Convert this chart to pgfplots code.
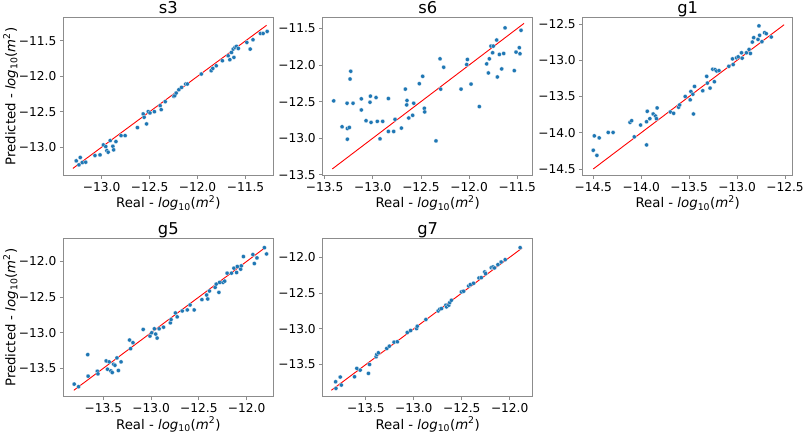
\documentclass[border=0pt]{standalone}
\usepackage{fontspec}
\setmainfont{DejaVu Sans}
\usepackage{pgfplots}
\pgfplotsset{compat=1.18}
\definecolor{tabblue}{HTML}{1F77B4}
\definecolor{spine}{RGB}{140,140,140}
\newcommand{\tickfont}{\fontsize{12.2bp}{14bp}\selectfont}
\newcommand{\labfont}{\fontsize{13.3bp}{16bp}\selectfont}
\newcommand{\titfont}{\fontsize{16.3bp}{19bp}\selectfont}
\pgfplotsset{
  panel/.style={
    scale only axis, width=210bp, height=158bp,
    axis line style={draw=spine, line width=0.8bp},
    tick style={draw=spine, line width=0.8bp},
    tick align=outside, major tick length=3.5bp,
    xtick pos=bottom, ytick pos=left,
    ticklabel style={font=\tickfont, text=black},
    every axis x label/.style={at={(axis description cs:0.5,-0.205)}, anchor=base, font=\labfont},
    every axis y label/.style={at={(axis description cs:-0.2286,0.5)}, rotate=90, anchor=base, font=\labfont},
    every axis title/.style={at={(axis description cs:0.5,1.025)}, anchor=base, font=\titfont},
    xlabel={Real - \textit{log}\textsubscript{10}(\textit{m}\textsuperscript{2})},
    anchor=south west,
  },
  pts/.style={only marks, mark=*, mark size=2.1bp, mark options={fill=tabblue, draw=white, line width=0.2bp}},
  fit/.style={red, line width=0.9bp, no marks},
}
\begin{document}
\begin{tikzpicture}
\useasboundingbox (0,0) rectangle (803bp,434bp);
% ---------------- s3
\begin{axis}[panel, at={(63.3bp,258.5bp)}, title={s3},
  ylabel={Predicted - \textit{log}\textsubscript{10}(\textit{m}\textsuperscript{2})},
  xmin=-13.40, xmax=-11.21, ymin=-13.40, ymax=-11.17,
  xtick={-13,-12.5,-12,-11.5}, xticklabels={−13.0,−12.5,−12.0,−11.5},
  ytick={-13,-12.5,-12,-11.5}, yticklabels={−13.0,−12.5,−12.0,−11.5}]
\addplot[pts] table {
x y
-13.265 -13.193
-13.223 -13.146
-13.237 -13.250
-13.202 -13.217
-13.166 -13.212
-13.070 -13.118
-13.017 -13.109
-12.982 -12.968
-12.957 -12.992
-12.946 -13.048
-12.932 -13.071
-12.911 -12.907
-12.883 -12.987
-12.875 -13.038
-12.851 -12.921
-12.798 -12.837
-12.755 -12.837
-12.627 -12.724
-12.567 -12.531
-12.557 -12.578
-12.532 -12.672
-12.514 -12.499
-12.496 -12.517
-12.450 -12.499
-12.390 -12.414
-12.379 -12.470
-12.337 -12.358
-12.248 -12.283
-12.238 -12.273
-12.223 -12.236
-12.195 -12.189
-12.167 -12.156
-12.124 -12.109
-12.106 -12.109
-11.961 -11.968
-11.858 -11.921
-11.841 -11.888
-11.805 -11.851
-11.741 -11.780
-11.681 -11.710
-11.663 -11.766
-11.646 -11.663
-11.628 -11.616
-11.621 -11.733
-11.610 -11.592
-11.593 -11.578
-11.575 -11.607
-11.486 -11.522
-11.451 -11.616
-11.422 -11.484
-11.344 -11.395
-11.316 -11.395
-11.274 -11.367
};
\addplot[fit] coordinates {(-13.30,-13.30) (-11.28,-11.28)};
\end{axis}
% ---------------- s6
\begin{axis}[panel, at={(322.7bp,258.5bp)}, title={s6},
  xmin=-13.52, xmax=-11.34, ymin=-13.51, ymax=-11.35,
  xtick={-13.5,-13,-12.5,-12,-11.5}, xticklabels={−13.5,−13.0,−12.5,−12.0,−11.5},
  ytick={-13.5,-13,-12.5,-12,-11.5}, yticklabels={−13.5,−13.0,−12.5,−12.0,−11.5}]
\addplot[pts] table {
x y
-13.406 -12.490
-13.319 -12.844
-13.267 -12.522
-13.264 -12.867
-13.243 -12.853
-13.264 -13.014
-13.236 -12.191
-13.229 -12.085
-13.205 -12.522
-13.119 -12.462
-13.119 -12.614
-13.070 -12.761
-13.029 -12.508
-13.025 -12.425
-13.018 -12.784
-12.966 -12.444
-12.953 -12.770
-12.925 -13.009
-12.897 -12.770
-12.838 -12.458
-12.838 -12.908
-12.783 -12.908
-12.769 -12.742
-12.703 -12.862
-12.662 -12.329
-12.648 -12.545
-12.645 -12.485
-12.627 -12.724
-12.586 -12.687
-12.575 -12.522
-12.517 -12.255
-12.482 -12.154
-12.465 -12.591
-12.461 -12.641
-12.344 -13.037
-12.302 -11.915
-12.295 -12.329
-12.264 -12.030
-12.084 -12.329
-12.025 -11.993
-12.018 -11.924
-11.980 -12.260
-11.894 -12.568
-11.818 -11.984
-11.800 -12.108
-11.790 -11.915
-11.773 -11.741
-11.749 -11.741
-11.756 -11.832
-11.714 -11.658
-11.707 -12.163
-11.686 -11.855
-11.662 -12.053
-11.641 -11.842
-11.627 -11.492
-11.531 -12.076
-11.513 -11.823
-11.479 -11.763
-11.472 -11.846
-11.461 -11.525
};
\addplot[fit] coordinates {(-13.42,-13.42) (-11.43,-11.43)};
\end{axis}
% ---------------- g1
\begin{axis}[panel, at={(582.7bp,258.5bp)}, title={g1},
  xmin=-14.61, xmax=-12.42, ymin=-14.59, ymax=-12.41,
  xtick={-14.5,-14,-13.5,-13,-12.5}, xticklabels={−14.5,−14.0,−13.5,−13.0,−12.5},
  ytick={-14.5,-14,-13.5,-13,-12.5}, yticklabels={−14.5,−14.0,−13.5,−13.0,−12.5}]
\addplot[pts] table {
x y
-14.500 -14.242
-14.489 -14.043
-14.462 -14.312
-14.438 -14.071
-14.344 -13.996
-14.293 -13.996
-14.117 -13.857
-14.100 -13.834
-14.072 -14.057
-14.006 -13.894
-13.944 -13.848
-13.944 -14.168
-13.937 -13.704
-13.910 -13.806
-13.875 -13.741
-13.851 -13.769
-13.841 -13.806
-13.834 -13.658
-13.696 -13.713
-13.662 -13.732
-13.610 -13.648
-13.599 -13.616
-13.541 -13.500
-13.489 -13.546
-13.482 -13.431
-13.461 -13.468
-13.455 -13.741
-13.444 -13.361
-13.358 -13.421
-13.317 -13.222
-13.310 -13.315
-13.282 -13.384
-13.254 -13.124
-13.237 -13.296
-13.230 -13.129
-13.213 -13.148
-13.189 -13.143
-13.086 -13.083
-13.048 -12.981
-13.041 -13.059
-13.006 -12.967
-12.989 -12.953
-12.954 -12.897
-12.947 -12.971
-12.903 -12.897
-12.875 -12.851
-12.861 -12.906
-12.841 -12.749
-12.827 -12.688
-12.782 -12.712
-12.772 -12.526
-12.765 -12.656
-12.741 -12.744
-12.713 -12.619
-12.696 -12.633
-12.644 -12.679
};
\addplot[fit] coordinates {(-14.50,-14.50) (-12.51,-12.51)};
\end{axis}
% ---------------- g5
\begin{axis}[panel, at={(63.3bp,37.3bp)}, title={g5},
  ylabel={Predicted - \textit{log}\textsubscript{10}(\textit{m}\textsuperscript{2})},
  xmin=-13.92, xmax=-11.72, ymin=-13.90, ymax=-11.68,
  xtick={-13.5,-13,-12.5,-12}, xticklabels={−13.5,−13.0,−12.5,−12.0},
  ytick={-13.5,-13,-12.5,-12}, yticklabels={−13.5,−13.0,−12.5,−12.0}]
\addplot[pts] table {
x y
-13.806 -13.723
-13.760 -13.760
-13.664 -13.309
-13.660 -13.611
-13.564 -13.542
-13.557 -13.579
-13.471 -13.397
-13.457 -13.514
-13.439 -13.411
-13.422 -13.537
-13.407 -13.560
-13.393 -13.444
-13.379 -13.458
-13.358 -13.355
-13.343 -13.532
-13.315 -13.411
-13.226 -13.104
-13.215 -13.225
-13.190 -13.141
-13.083 -12.955
-13.012 -13.048
-12.994 -13.002
-12.966 -12.946
-12.952 -13.020
-12.937 -13.076
-12.916 -12.946
-12.870 -12.923
-12.799 -12.862
-12.791 -12.816
-12.745 -12.723
-12.727 -12.778
-12.674 -12.695
-12.621 -12.681
-12.592 -12.611
-12.549 -12.681
-12.468 -12.536
-12.418 -12.471
-12.407 -12.527
-12.389 -12.415
-12.329 -12.364
-12.318 -12.318
-12.290 -12.434
-12.282 -12.294
-12.247 -12.294
-12.229 -12.276
-12.204 -12.164
-12.158 -12.164
-12.133 -12.094
-12.104 -12.155
-12.097 -12.071
-12.062 -12.108
-12.055 -12.062
-12.033 -11.931
-11.934 -11.903
-11.919 -12.029
-11.891 -11.950
-11.813 -11.806
-11.791 -11.894
};
\addplot[fit] coordinates {(-13.81,-13.81) (-11.82,-11.82)};
\end{axis}
% ---------------- g7
\begin{axis}[panel, at={(322.7bp,37.3bp)}, title={g7},
  xmin=-13.95, xmax=-11.76, ymin=-13.95, ymax=-11.74,
  xtick={-13.5,-13,-12.5,-12}, xticklabels={−13.5,−13.0,−12.5,−12.0},
  ytick={-13.5,-13,-12.5,-12}, yticklabels={−13.5,−13.0,−12.5,−12.0}]
\addplot[pts] table {
x y
-13.815 -13.741
-13.812 -13.834
-13.767 -13.675
-13.756 -13.787
-13.618 -13.671
-13.594 -13.554
-13.559 -13.578
-13.473 -13.624
-13.462 -13.499
-13.393 -13.392
-13.386 -13.359
-13.369 -13.336
-13.282 -13.275
-13.255 -13.243
-13.206 -13.187
-13.172 -13.182
-13.068 -13.052
-13.033 -13.024
-12.971 -12.996
-12.964 -12.964
-12.874 -12.870
-12.746 -12.750
-12.729 -12.726
-12.711 -12.717
-12.666 -12.670
-12.659 -12.694
-12.635 -12.670
-12.625 -12.633
-12.608 -12.601
-12.504 -12.484
-12.480 -12.475
-12.428 -12.401
-12.410 -12.382
-12.376 -12.363
-12.320 -12.289
-12.296 -12.284
-12.261 -12.205
-12.251 -12.228
-12.192 -12.145
-12.175 -12.135
-12.158 -12.149
-12.123 -12.103
-12.089 -12.066
-12.047 -12.033
-11.891 -11.865
};
\addplot[fit] coordinates {(-13.86,-13.86) (-11.87,-11.87)};
\end{axis}
\end{tikzpicture}
\end{document}
